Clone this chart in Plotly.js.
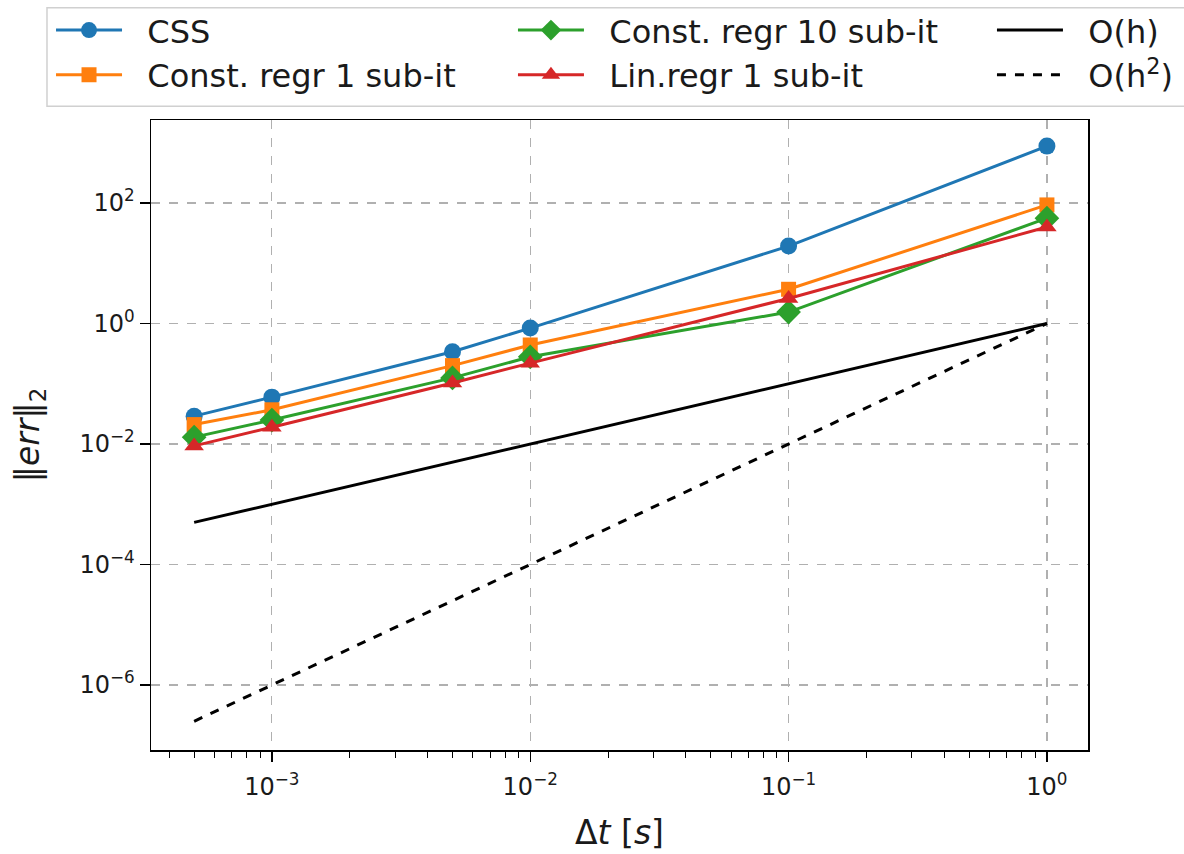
<!DOCTYPE html>
<html>
<head>
<meta charset="utf-8">
<script src="https://cdn.plot.ly/plotly-3.0.1.min.js"></script>
<style>html,body{margin:0;padding:0;background:#fff;}#chart{width:1184px;height:854px;}</style>
</head>
<body>
<div id="chart"></div>
<script>
const dt = [0.0005, 0.001, 0.005, 0.01, 0.1, 1];
const cssErr = [0.029, 0.06, 0.34, 0.84, 19.3, 880];
const constRegr1 = [0.021, 0.037, 0.2, 0.44, 3.7, 93];
const constRegr10 = [0.013, 0.025, 0.125, 0.28, 1.55, 56];
const linRegr1 = [0.0093, 0.019, 0.103, 0.22, 2.6, 40];
const orderH = [0.0005, 0.001, 0.005, 0.01, 0.1, 1];
const orderH2 = [0.00000025, 0.000001, 0.000025, 0.0001, 0.01, 1];
const seriesNames = ['CSS', 'Const. regr 1 sub-it', 'Const. regr 10 sub-it', 'Lin.regr 1 sub-it', 'O(h)', 'O(h<sup>2</sup>)'];

const xTickVals = [0.001, 0.01, 0.1, 1];
const xTickText = ['10<sup>−3</sup>', '10<sup>−2</sup>', '10<sup>−1</sup>', '10<sup>0</sup>'];
const yTickVals = [1e-6, 1e-4, 1e-2, 1, 100];
const yTickText = ['10<sup>−6</sup>', '10<sup>−4</sup>', '10<sup>−2</sup>', '10<sup>0</sup>', '10<sup>2</sup>'];

const FONT = 'DejaVu Sans, sans-serif';
const TXT = '#1a1a1a';
const LW = 3;
const MS = 17;
const GAP = '\u00A0\u00A0';

const traces = [
  {x: dt, y: cssErr, name: GAP + seriesNames[0], mode: 'lines+markers', legend: 'legend', legendrank: 1,
   line: {color: '#1f77b4', width: LW}, marker: {symbol: 'circle', size: MS, color: '#1f77b4'}},
  {x: dt, y: constRegr1, name: GAP + seriesNames[1], mode: 'lines+markers', legend: 'legend', legendrank: 2,
   line: {color: '#ff7f0e', width: LW}, marker: {symbol: 'square', size: MS - 2, color: '#ff7f0e'}},
  {x: dt, y: constRegr10, name: GAP + seriesNames[2], mode: 'lines+markers', legend: 'legend2', legendrank: 1,
   line: {color: '#2ca02c', width: LW}, marker: {symbol: 'diamond', size: MS + 2, color: '#2ca02c'}},
  {x: dt, y: linRegr1, name: GAP + seriesNames[3], mode: 'lines+markers', legend: 'legend2', legendrank: 2,
   line: {color: '#d62728', width: LW}, marker: {symbol: 'triangle-up', size: MS, color: '#d62728'}},
  {x: orderH, y: orderH, name: GAP + seriesNames[4], mode: 'lines', legend: 'legend3', legendrank: 1,
   line: {color: '#000000', width: LW}},
  {x: orderH, y: orderH2, name: GAP + seriesNames[5], mode: 'lines', legend: 'legend3', legendrank: 2,
   line: {color: '#000000', width: LW, dash: 'dash'}}
];

const legendBase = {
  orientation: 'v', xanchor: 'left', yanchor: 'top', y: 1.186,
  bgcolor: 'rgba(0,0,0,0)', borderwidth: 0,
  font: {family: FONT, size: 32, color: TXT},
  itemwidth: 66, traceorder: 'normal'
};

const layout = {
  width: 1184, height: 854,
  paper_bgcolor: '#ffffff', plot_bgcolor: '#ffffff',
  margin: {l: 151, r: 96, t: 120, b: 104, autoexpand: false},
  font: {family: FONT, color: TXT},
  showlegend: true,
  legend: Object.assign({}, legendBase, {x: -0.1067}),
  legend2: Object.assign({}, legendBase, {x: 0.3863}),
  legend3: Object.assign({}, legendBase, {x: 0.8975}),
  xaxis: {
    type: 'log', range: [-3.468, 0.159],
    tickvals: xTickVals, ticktext: xTickText,
    ticks: 'outside', ticklen: 10, tickwidth: 1.3, tickcolor: '#000',
    ticklabelstandoff: 5,
    tickfont: {family: FONT, size: 24, color: TXT},
    showgrid: true, gridcolor: '#b0b0b0', griddash: 'dash', gridwidth: 1.2,
    showline: true, linecolor: '#000', linewidth: 1.5, mirror: true,
    zeroline: false,
    minor: {ticks: 'outside', ticklen: 6, tickwidth: 1, tickcolor: '#000', dtick: 'D1', showgrid: false},
    title: {text: 'Δ<i>t</i> [<i>s</i>]', font: {family: FONT, size: 33, color: TXT}, standoff: 20}
  },
  yaxis: {
    type: 'log', range: [-7.079, 3.378],
    tickvals: yTickVals, ticktext: yTickText,
    ticks: 'outside', ticklen: 10, tickwidth: 1.3, tickcolor: '#000',
    tickfont: {family: FONT, size: 24, color: TXT},
    showgrid: true, gridcolor: '#b0b0b0', griddash: 'dash', gridwidth: 1.2,
    showline: true, linecolor: '#000', linewidth: 1.5, mirror: true,
    zeroline: false,
    title: {text: '‖<i>err</i>‖<sub>2</sub>', font: {family: FONT, size: 33, color: TXT}, standoff: 30}
  },
  shapes: [{
    type: 'rect', xref: 'paper', yref: 'paper', layer: 'below',
    x0: -0.111, x1: 1.11, y0: 1.022, y1: 1.178,
    line: {color: '#d0d0d0', width: 1.5}, fillcolor: 'rgba(255,255,255,0.8)'
  }]
};

Plotly.newPlot('chart', traces, layout, {displayModeBar: false, staticPlot: true});
</script>
</body>
</html>
